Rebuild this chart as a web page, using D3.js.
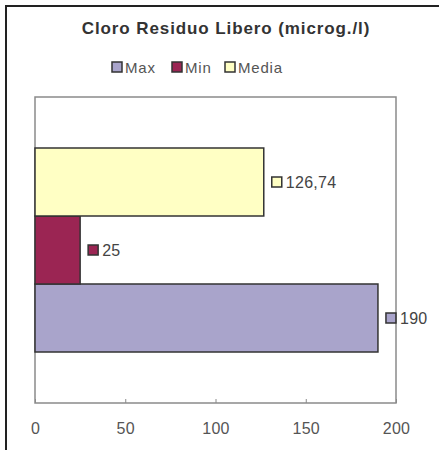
<!DOCTYPE html>
<html><head><meta charset="utf-8">
<script src="https://cdn.jsdelivr.net/npm/d3@7"></script>
<style>body{margin:0;background:#fff}svg{display:block}text{font-family:Arial,"Liberation Sans",sans-serif}</style>
</head><body>
<script>
const title = "Cloro Residuo Libero (microg./l)";
const seriesNames = ["Max", "Min", "Media"];
const seriesValues = [190, 25, 126.74];
const valueLabels = ["190", "25", "126,74"];
const seriesColors = ["#a9a4cb", "#9b2553", "#ffffc4"];
const xTicks = [0, 50, 100, 150, 200];

const W = 439, H = 450;
const svg = d3.select("body").append("svg").attr("width", W).attr("height", H);

// outer frame (left and top)
svg.append("path").attr("d", "M6,450V6H439").attr("fill", "none").attr("stroke", "#222").attr("stroke-width", 2);

svg.append("text").attr("x", 226).attr("y", 34).attr("text-anchor", "middle")
  .attr("font-size", 17).attr("font-weight", "bold").attr("letter-spacing", 0.9).attr("fill", "#333").text(title);

const plot = {l: 35, r: 396, t: 97, b: 403};
const x = d3.scaleLinear().domain([0, 200]).range([plot.l, plot.r]);
const y = d3.scaleBand().domain(seriesNames.slice().reverse()).range([plot.t, plot.b]).paddingOuter(0.75).paddingInner(0);

svg.append("rect").attr("x", plot.l).attr("y", plot.t).attr("width", plot.r - plot.l).attr("height", plot.b - plot.t)
  .attr("fill", "none").attr("stroke", "#8a8a8a").attr("stroke-width", 1.5);

const g = svg.append("g");
seriesNames.forEach((n, i) => {
  g.append("rect").attr("x", x(0)).attr("y", y(n)).attr("width", x(seriesValues[i]) - x(0)).attr("height", y.bandwidth())
    .attr("fill", seriesColors[i]).attr("stroke", "#333").attr("stroke-width", 1.5);
  const lx = x(seriesValues[i]) + 8, ly = y(n) + y.bandwidth() / 2;
  g.append("rect").attr("x", lx).attr("y", ly - 5).attr("width", 10).attr("height", 10)
    .attr("fill", seriesColors[i]).attr("stroke", "#333").attr("stroke-width", 1.5);
  g.append("text").attr("x", lx + 14).attr("y", ly + 6).attr("font-size", 16).attr("letter-spacing", 0.3).attr("fill", "#444").text(valueLabels[i]);
});

const axis = d3.axisBottom(x).tickValues(xTicks).tickSize(-4).tickPadding(20).tickFormat(d3.format("d"));
const ax = svg.append("g").attr("transform", `translate(0,${plot.b})`).call(axis);
ax.select(".domain").remove();
ax.selectAll("line").attr("stroke", "#8a8a8a");
ax.selectAll("text").attr("font-size", 16).attr("letter-spacing", 0.3).attr("fill", "#555").attr("font-family", "Arial,'Liberation Sans',sans-serif");

// legend
const legX = [112, 172, 225];
seriesNames.forEach((n, i) => {
  svg.append("rect").attr("x", legX[i]).attr("y", 62).attr("width", 10).attr("height", 10)
    .attr("fill", seriesColors[i]).attr("stroke", "#333").attr("stroke-width", 1.5);
  svg.append("text").attr("x", legX[i] + 13).attr("y", 73).attr("font-size", 15).attr("letter-spacing", 0.8).attr("fill", "#555").text(n);
});
</script>
</body></html>
